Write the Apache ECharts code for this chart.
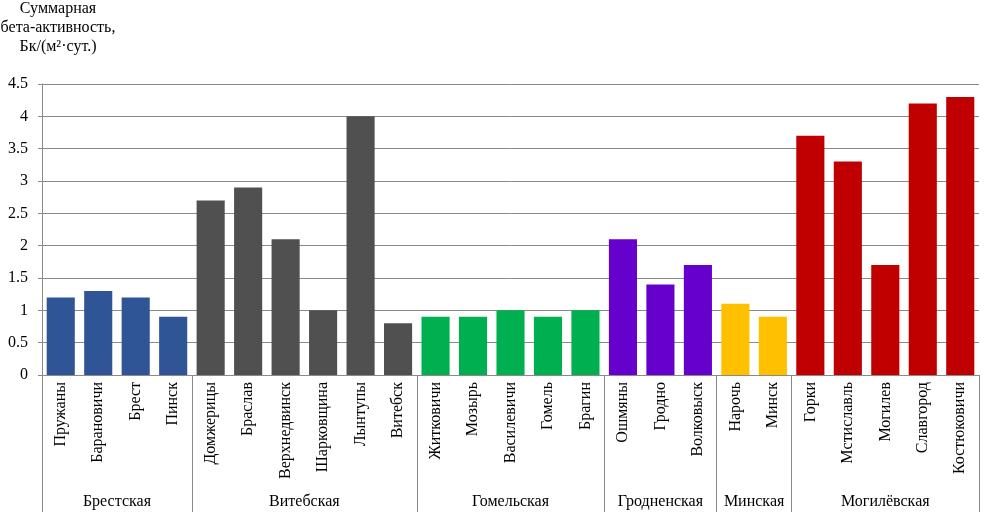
<!DOCTYPE html>
<html>
<head>
<meta charset="utf-8">
<script src="https://cdn.jsdelivr.net/npm/echarts@6/dist/echarts.min.js"></script>
<style>
  html, body { margin: 0; padding: 0; background: #fff; }
  #chart-container { width: 986px; height: 527px; }
</style>
</head>
<body>
<div id="chart-container"></div>
<script>
// stations, left to right
var cities = ['Пружаны', 'Барановичи', 'Брест', 'Пинск',
  'Домжерицы', 'Браслав', 'Верхнедвинск', 'Шарковщина', 'Лынтупы', 'Витебск',
  'Житковичи', 'Мозырь', 'Василевичи', 'Гомель', 'Брагин',
  'Ошмяны', 'Гродно', 'Волковыск',
  'Нарочь', 'Минск',
  'Горки', 'Мстиславль', 'Могилев', 'Славгород', 'Костюковичи'];
var values = [1.2, 1.3, 1.2, 0.9,
  2.7, 2.9, 2.1, 1.0, 4.0, 0.8,
  0.9, 0.9, 1.0, 0.9, 1.0,
  2.1, 1.4, 1.7,
  1.1, 0.9,
  3.7, 3.3, 1.7, 4.2, 4.3];
var regions = ['Брестская', 'Витебская', 'Гомельская', 'Гродненская', 'Минская', 'Могилёвская'];
var regionSizes = [4, 6, 5, 3, 2, 5];
var regionColors = ['#2F5597', '#505050', '#00B050', '#6600CC', '#FFC000', '#C00000'];
var yTicks = { min: 0, max: 4.5, interval: 0.5 };

var font = 'Liberation Serif';
var lineColor = '#8a8a8a';

// bar data coloured by region
var barData = [];
var regionAxis = [];   // half-step points: 0..2*cities.length
var boundaries = {};
for (var k = 0; k <= cities.length * 2; k++) regionAxis.push('');
var start = 0;
regionSizes.forEach(function (n, r) {
  for (var i = 0; i < n; i++) {
    barData.push({ value: values[start + i], itemStyle: { color: regionColors[r] } });
  }
  boundaries[start * 2] = true;
  regionAxis[start * 2 + n] = regions[r];
  start += n;
});
boundaries[start * 2] = true;

var dom = document.getElementById('chart-container');
var myChart = echarts.init(dom, null, { renderer: 'canvas' });

var option = {
  animation: false,
  title: {
    text: 'Суммарная\nбета-активность,\nБк/(м²·сут.)',
    left: 58,
    top: -1,
    padding: 0,
    textAlign: 'center',
    textStyle: { fontFamily: font, fontSize: 16, fontWeight: 'normal', color: '#000', lineHeight: 19 }
  },
  grid: { left: 42, right: 7, top: 84, bottom: 152 },
  xAxis: [
    {
      type: 'category',
      data: cities,
      position: 'bottom',
      axisLine: { lineStyle: { color: lineColor } },
      axisTick: { length: 108, lineStyle: { color: lineColor } },
      axisLabel: { interval: 0, rotate: 90, margin: 7, fontFamily: font, fontSize: 16, color: '#000' }
    },
    {
      type: 'category',
      data: regionAxis,
      boundaryGap: false,
      position: 'bottom',
      axisLine: { show: false },
      axisTick: {
        show: true,
        length: 137,
        interval: function (index) { return !!boundaries[index]; },
        lineStyle: { color: lineColor }
      },
      axisLabel: { interval: 0, margin: 119, fontFamily: font, fontSize: 16, color: '#000' }
    }
  ],
  yAxis: {
    type: 'value',
    min: yTicks.min,
    max: yTicks.max,
    interval: yTicks.interval,
    axisLine: { show: true, lineStyle: { color: lineColor } },
    axisTick: { show: true, length: 4, lineStyle: { color: lineColor } },
    splitLine: { lineStyle: { color: lineColor } },
    axisLabel: { margin: 14, fontFamily: font, fontSize: 16, color: '#000' }
  },
  series: [
    {
      type: 'bar',
      xAxisIndex: 0,
      data: barData,
      barCategoryGap: '25%'
    }
  ]
};

myChart.setOption(option);
window.addEventListener('resize', myChart.resize);
</script>
</body>
</html>
